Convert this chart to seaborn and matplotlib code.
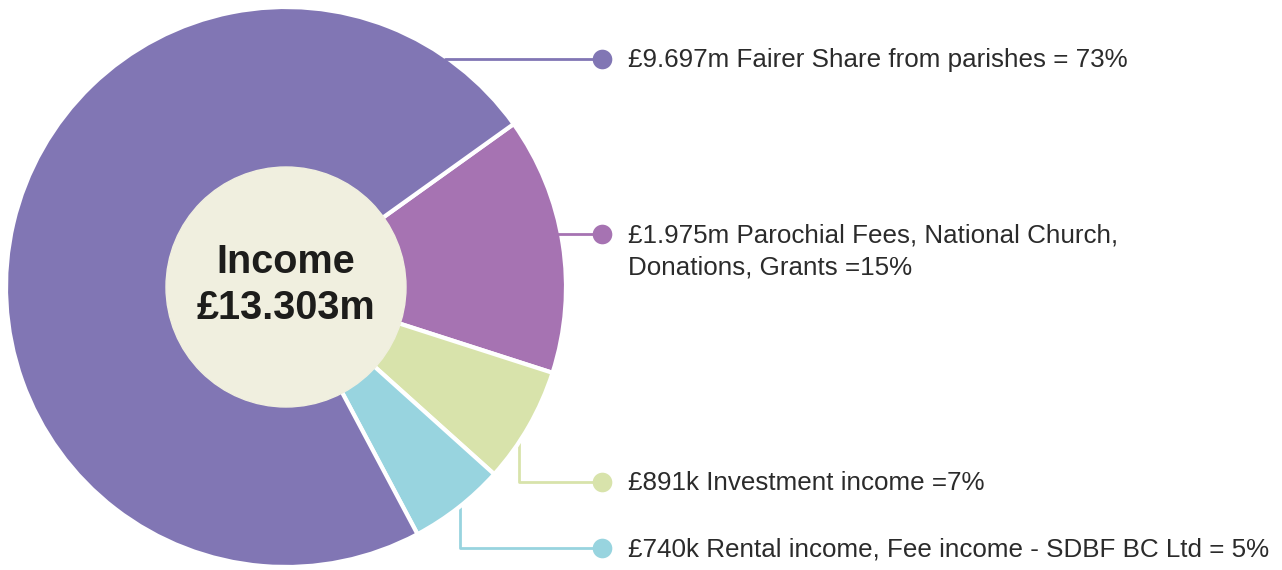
import numpy as np
import matplotlib.pyplot as plt
import seaborn as sns

# income breakdown (in £m), clockwise from the top-right
categories = ["Parochial", "Investment", "Rental", "Fairer Share"]
values = [1.975, 0.891, 0.740, 9.697]
colors = ["#a673b2", "#d8e3ab", "#98d4df", "#8176b4"]
labels = [
    "£1.975m Parochial Fees, National Church,\nDonations, Grants =15%",
    "£891k Investment income =7%",
    "£740k Rental income, Fee income - SDBF BC Ltd = 5%",
    "£9.697m Fairer Share from parishes = 73%",
]
total_label = "Income\n£13.303m"

sns.set_theme(style="white")
plt.rcParams['font.family'] = ['Liberation Sans', 'DejaVu Sans']

W, H = 1282, 570
fig = plt.figure(figsize=(W / 100, H / 100), dpi=100)
ax = fig.add_axes([0, 0, 1, 1])

cx, cy, r = 286, H - 287, 280
ax.pie(values, colors=colors, startangle=35.6, counterclock=False,
       center=(cx, cy), radius=r, frame=True,
       wedgeprops=dict(edgecolor="white", linewidth=3))
ax.set_xlim(0, W)
ax.set_ylim(0, H)
ax.set_aspect('equal')
ax.axis('off')

ax.add_patch(plt.Circle((cx, cy), 120, color="#f0efdf", zorder=5))
ax.text(cx, cy + 2, total_label, ha='center', va='center', fontsize=28.5,
        fontweight='bold', color="#1d1d1b", linespacing=1.27, zorder=6)

dot_x, text_x = 602, 628
txt_color = "#2b2b2b"
# leader lines: (label row y in px, vertical drop x or None)
rows = {"Fairer Share": (59, None), "Parochial": (234, None),
        "Investment": (482, 519), "Rental": (548, 460)}

for cat, col, lab in zip(categories, colors, labels):
    ypx, vx = rows[cat]
    y = H - ypx
    if vx is None:
        x0 = cx + np.sqrt(r ** 2 - (y - cy) ** 2) - 4
        ax.plot([x0, dot_x], [y, y], color=col, lw=2, zorder=2)
    else:
        y0 = cy - np.sqrt(r ** 2 - (vx - cx) ** 2) + 3
        ax.plot([vx, vx, dot_x], [y0, y, y], color=col, lw=2, zorder=0.5)
    ax.scatter([dot_x], [y], s=200, color=col, zorder=3, linewidths=0)
    for i, line in enumerate(lab.split("\n")):
        ax.text(text_x, y - 1 - 33 * i, line, ha='left', va='center',
                fontsize=18.7, color=txt_color)

fig.savefig("out.png", dpi=100)
